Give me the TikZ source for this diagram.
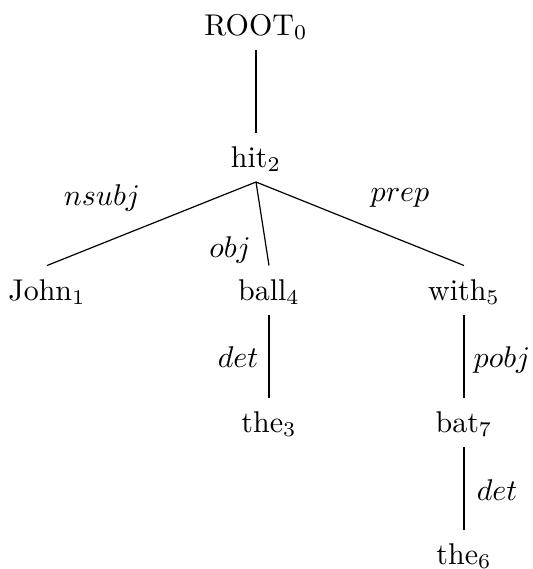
\documentclass[tikz,border=0pt]{standalone}
\begin{document}
\begin{tikzpicture}[x=0.3333pt,y=-0.3333pt,
  word/.style={anchor=base,text height=7pt,text depth=0.5pt,inner xsep=1pt,inner ysep=4.3pt},
  rel/.style={inner sep=0pt},
  edge/.style={draw=black,line width=0.4pt}]
\useasboundingbox (0,0) rectangle (533,569);
\node[word] (root) at (256,35) {ROOT$_0$};
\node[word] (hit) at (256,167) {hit$_2$};
\node[word] (john) at (47,300) {John$_1$};
\node[word] (ball) at (269,300) {ball$_4$};
\node[word] (with) at (464,300) {with$_5$};
\node[word] (the3) at (269,432) {the$_3$};
\node[word] (bat) at (464,432) {bat$_7$};
\node[word] (the6) at (464,564) {the$_6$};
\draw[edge] (root.south) -- (hit.north);
\draw[edge] (hit.south) -- (john.north);
\draw[edge] (hit.south) -- (ball.north);
\draw[edge] (hit.south) -- (with.north);
\draw[edge] (ball.south) -- (the3.north);
\draw[edge] (with.south) -- (bat.north);
\draw[edge] (bat.south) -- (the6.north);
\node[rel] (lnsubj) at (102,198) {$nsubj$};
\node[rel] (lobj) at (230,250) {$obj$};
\node[rel] (lprep) at (400,198) {$prep$};
\node[rel] (ldet1) at (238,357) {$det$};
\node[rel] (lpobj) at (502,360) {$pobj$};
\node[rel] (ldet2) at (497,490) {$det$};
\end{tikzpicture}
\end{document}
